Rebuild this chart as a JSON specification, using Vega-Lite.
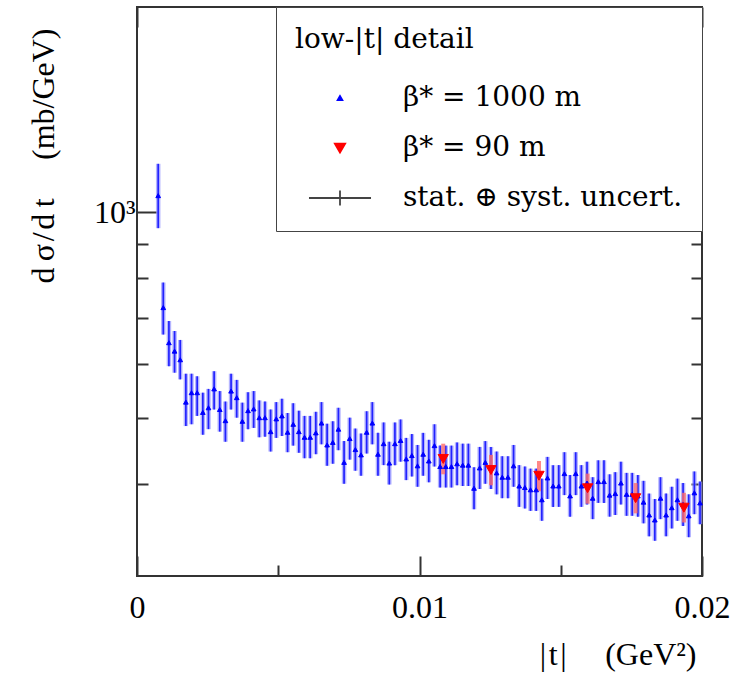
{
  "$schema": "https://vega.github.io/schema/vega-lite/v6.json",
  "width": 565,
  "height": 569,
  "autosize": "none",
  "padding": {"left": 137, "top": 7, "right": 40, "bottom": 97},
  "background": "white",
  "config": {
    "view": {"stroke": "#333333", "strokeWidth": 2},
    "font": "Liberation Serif",
    "legend": {
      "orient": "top-right",
      "offset": 0,
      "padding": 19,
      "strokeColor": "#444444",
      "fillColor": "white",
      "titleFont": "DejaVu Serif",
      "titleFontSize": 28,
      "titleFontWeight": "normal",
      "titleColor": "#000000",
      "titlePadding": 30,
      "labelFont": "DejaVu Serif",
      "labelFontSize": 28,
      "labelColor": "#000000",
      "symbolOffset": 31,
      "labelOffset": 49,
      "rowPadding": 22,
      "symbolStrokeWidth": 1.8,
      "labelLimit": 400
    }
  },
  "datasets": {
    "pts": [
      {"t":0.00075,"v":1058,"lo":948,"hi":1178,"s":"a"},
      {"t":0.00093,"v":725,"lo":662,"hi":789,"s":"a"},
      {"t":0.00113,"v":644,"lo":595,"hi":693,"s":"a"},
      {"t":0.00133,"v":626,"lo":582,"hi":670,"s":"a"},
      {"t":0.00153,"v":608,"lo":569,"hi":650,"s":"a"},
      {"t":0.00173,"v":527,"lo":486,"hi":580,"s":"a"},
      {"t":0.00193,"v":544,"lo":489,"hi":580,"s":"a"},
      {"t":0.00213,"v":544,"lo":503,"hi":575,"s":"a"},
      {"t":0.00233,"v":509,"lo":472,"hi":544,"s":"a"},
      {"t":0.00253,"v":517,"lo":481,"hi":551,"s":"a"},
      {"t":0.00273,"v":551,"lo":514,"hi":585,"s":"a"},
      {"t":0.00293,"v":514,"lo":477,"hi":547,"s":"a"},
      {"t":0.00313,"v":495,"lo":461,"hi":528,"s":"a"},
      {"t":0.00333,"v":547,"lo":514,"hi":580,"s":"a"},
      {"t":0.00353,"v":535,"lo":500,"hi":568,"s":"a"},
      {"t":0.00373,"v":494,"lo":461,"hi":526,"s":"a"},
      {"t":0.00393,"v":512,"lo":481,"hi":545,"s":"a"},
      {"t":0.00413,"v":515,"lo":483,"hi":547,"s":"a"},
      {"t":0.00433,"v":500,"lo":468,"hi":530,"s":"a"},
      {"t":0.00453,"v":500,"lo":469,"hi":528,"s":"a"},
      {"t":0.00473,"v":477,"lo":446,"hi":514,"s":"a"},
      {"t":0.00493,"v":498,"lo":467,"hi":527,"s":"a"},
      {"t":0.00513,"v":503,"lo":470,"hi":533,"s":"a"},
      {"t":0.00533,"v":476,"lo":445,"hi":508,"s":"a"},
      {"t":0.00553,"v":489,"lo":455,"hi":525,"s":"a"},
      {"t":0.00573,"v":477,"lo":444,"hi":512,"s":"a"},
      {"t":0.00593,"v":468,"lo":436,"hi":503,"s":"a"},
      {"t":0.00613,"v":468,"lo":436,"hi":503,"s":"a"},
      {"t":0.00633,"v":475,"lo":442,"hi":510,"s":"a"},
      {"t":0.00653,"v":491,"lo":457,"hi":527,"s":"a"},
      {"t":0.00673,"v":456,"lo":425,"hi":490,"s":"a"},
      {"t":0.00693,"v":460,"lo":428,"hi":494,"s":"a"},
      {"t":0.00713,"v":481,"lo":448,"hi":517,"s":"a"},
      {"t":0.00733,"v":430,"lo":400,"hi":462,"s":"a"},
      {"t":0.00753,"v":466,"lo":434,"hi":500,"s":"a"},
      {"t":0.00773,"v":449,"lo":418,"hi":482,"s":"a"},
      {"t":0.00793,"v":441,"lo":411,"hi":474,"s":"a"},
      {"t":0.00813,"v":476,"lo":443,"hi":511,"s":"a"},
      {"t":0.00833,"v":491,"lo":457,"hi":527,"s":"a"},
      {"t":0.00853,"v":442,"lo":411,"hi":475,"s":"a"},
      {"t":0.00873,"v":458,"lo":426,"hi":492,"s":"a"},
      {"t":0.00893,"v":429,"lo":399,"hi":461,"s":"a"},
      {"t":0.00913,"v":458,"lo":426,"hi":492,"s":"a"},
      {"t":0.00933,"v":463,"lo":431,"hi":497,"s":"a"},
      {"t":0.00953,"v":435,"lo":405,"hi":467,"s":"a"},
      {"t":0.00973,"v":440,"lo":410,"hi":473,"s":"a"},
      {"t":0.00993,"v":425,"lo":396,"hi":456,"s":"a"},
      {"t":0.01013,"v":442,"lo":411,"hi":475,"s":"a"},
      {"t":0.01033,"v":432,"lo":402,"hi":464,"s":"a"},
      {"t":0.01053,"v":455,"lo":424,"hi":489,"s":"a"},
      {"t":0.01073,"v":424,"lo":395,"hi":455,"s":"a"},
      {"t":0.01093,"v":424,"lo":395,"hi":455,"s":"a"},
      {"t":0.01113,"v":424,"lo":395,"hi":455,"s":"a"},
      {"t":0.01133,"v":428,"lo":398,"hi":460,"s":"a"},
      {"t":0.01153,"v":426,"lo":397,"hi":458,"s":"a"},
      {"t":0.01173,"v":426,"lo":397,"hi":458,"s":"a"},
      {"t":0.01193,"v":394,"lo":367,"hi":423,"s":"a"},
      {"t":0.01213,"v":422,"lo":393,"hi":453,"s":"a"},
      {"t":0.01233,"v":430,"lo":400,"hi":462,"s":"a"},
      {"t":0.01253,"v":422,"lo":393,"hi":453,"s":"a"},
      {"t":0.01273,"v":415,"lo":386,"hi":446,"s":"a"},
      {"t":0.01293,"v":409,"lo":381,"hi":439,"s":"a"},
      {"t":0.01313,"v":409,"lo":381,"hi":439,"s":"a"},
      {"t":0.01333,"v":425,"lo":396,"hi":456,"s":"a"},
      {"t":0.01353,"v":397,"lo":370,"hi":426,"s":"a"},
      {"t":0.01373,"v":395,"lo":368,"hi":424,"s":"a"},
      {"t":0.01393,"v":392,"lo":365,"hi":421,"s":"a"},
      {"t":0.01413,"v":392,"lo":365,"hi":421,"s":"a"},
      {"t":0.01433,"v":379,"lo":353,"hi":407,"s":"a"},
      {"t":0.01453,"v":408,"lo":380,"hi":438,"s":"a"},
      {"t":0.01473,"v":397,"lo":370,"hi":426,"s":"a"},
      {"t":0.01493,"v":397,"lo":370,"hi":426,"s":"a"},
      {"t":0.01513,"v":414,"lo":385,"hi":445,"s":"a"},
      {"t":0.01533,"v":384,"lo":358,"hi":412,"s":"a"},
      {"t":0.01553,"v":414,"lo":385,"hi":445,"s":"a"},
      {"t":0.01573,"v":397,"lo":370,"hi":426,"s":"a"},
      {"t":0.01593,"v":401,"lo":373,"hi":431,"s":"a"},
      {"t":0.01613,"v":381,"lo":355,"hi":409,"s":"a"},
      {"t":0.01633,"v":403,"lo":375,"hi":433,"s":"a"},
      {"t":0.01653,"v":403,"lo":375,"hi":433,"s":"a"},
      {"t":0.01673,"v":385,"lo":358,"hi":413,"s":"a"},
      {"t":0.01693,"v":387,"lo":360,"hi":416,"s":"a"},
      {"t":0.01713,"v":401,"lo":373,"hi":431,"s":"a"},
      {"t":0.01733,"v":386,"lo":359,"hi":415,"s":"a"},
      {"t":0.01753,"v":386,"lo":359,"hi":415,"s":"a"},
      {"t":0.01773,"v":384,"lo":358,"hi":412,"s":"a"},
      {"t":0.01793,"v":376,"lo":350,"hi":404,"s":"a"},
      {"t":0.01813,"v":360,"lo":335,"hi":387,"s":"a"},
      {"t":0.01833,"v":354,"lo":330,"hi":380,"s":"a"},
      {"t":0.01853,"v":381,"lo":355,"hi":409,"s":"a"},
      {"t":0.01873,"v":360,"lo":335,"hi":387,"s":"a"},
      {"t":0.01893,"v":369,"lo":344,"hi":396,"s":"a"},
      {"t":0.01913,"v":379,"lo":353,"hi":407,"s":"a"},
      {"t":0.01933,"v":373,"lo":347,"hi":401,"s":"a"},
      {"t":0.01953,"v":359,"lo":334,"hi":386,"s":"a"},
      {"t":0.01973,"v":388,"lo":361,"hi":417,"s":"a"},
      {"t":0.01993,"v":375,"lo":349,"hi":403,"s":"a"},
      {"t":0.01084,"v":435,"lo":413,"hi":458,"s":"b"},
      {"t":0.01253,"v":419,"lo":398,"hi":441,"s":"b"},
      {"t":0.01423,"v":411,"lo":390,"hi":432,"s":"b"},
      {"t":0.01595,"v":394,"lo":374,"hi":414,"s":"b"},
      {"t":0.01765,"v":381,"lo":362,"hi":401,"s":"b"},
      {"t":0.01936,"v":369,"lo":351,"hi":388,"s":"b"}
    ]
  },
  "data": {"name": "pts"},
  "resolve": {"axis": {"x": "independent", "y": "independent"}},
  "layer": [
    {
      "transform": [{"filter": "datum.s == 'a'"}],
      "mark": {"type": "rule", "color": "#9494ff", "strokeWidth": 4.5, "opacity": 0.7},
      "encoding": {
        "x": {
          "field": "t", "type": "quantitative",
          "scale": {"domain": [0, 0.02], "nice": false, "zero": false},
          "axis": {
            "orient": "bottom",
            "values": [0, 0.005, 0.01, 0.015, 0.02],
            "domain": false, "grid": false,
            "tickColor": "#333333", "tickWidth": 2,
            "tickSize": {"condition": {"test": "datum.value == 0.005 || datum.value == 0.015", "value": -11}, "value": -20},
            "labelExpr": "datum.value == 0 ? '0' : datum.value == 0.01 ? '0.01' : datum.value == 0.02 ? '0.02' : ''",
            "labelFont": "Liberation Serif", "labelFontSize": 32, "labelColor": "#000000",
            "labelPadding": 36, "labelFlush": false,
            "title": "|\u200at\u200a|\u2003\u2009(GeV²)", "titleAnchor": "end", "titleX": 559,
            "titleFont": "Liberation Serif", "titleFontSize": 32, "titleFontWeight": "normal", "titleColor": "#000000",
            "titlePadding": 16
          }
        },
        "y": {
          "field": "lo", "type": "quantitative",
          "scale": {"type": "log", "domain": [293, 2000], "nice": false},
          "axis": {
            "orient": "left",
            "values": [400, 500, 600, 700, 800, 900, 1000],
            "domain": false, "grid": false,
            "tickColor": "#333333", "tickWidth": 2,
            "tickSize": {"condition": {"test": "datum.value == 1000", "value": -20}, "value": -11},
            "labelExpr": "datum.value == 1000 ? '10³' : ''",
            "labelFont": "Liberation Serif", "labelFontSize": 32, "labelColor": "#000000",
            "labelPadding": 22,
            "title": "d\u2009σ\u200a/\u200ad\u2009t\u2003\u2009(mb/GeV)", "titleAnchor": "end", "titleY": 21,
            "titleFont": "Liberation Serif", "titleFontSize": 32, "titleFontWeight": "normal", "titleColor": "#000000",
            "titlePadding": 33
          }
        },
        "y2": {"field": "hi"}
      }
    },
    {
      "transform": [{"filter": "datum.s == 'a'"}],
      "mark": {"type": "rule", "color": "#2222ff", "strokeWidth": 1.7},
      "encoding": {
        "x": {
          "field": "t", "type": "quantitative",
          "scale": {"domain": [0, 0.02], "nice": false, "zero": false},
          "axis": {
            "orient": "top",
            "values": [0, 0.005, 0.01, 0.015, 0.02],
            "domain": false, "grid": false, "labels": false, "title": null,
            "tickColor": "#333333", "tickWidth": 2,
            "tickSize": {"condition": {"test": "datum.value == 0.005 || datum.value == 0.015", "value": -11}, "value": -20}
          }
        },
        "y": {
          "field": "lo", "type": "quantitative",
          "scale": {"type": "log", "domain": [293, 2000], "nice": false},
          "axis": {
            "orient": "right",
            "values": [400, 500, 600, 700, 800, 900, 1000],
            "domain": false, "grid": false, "labels": false, "title": null,
            "tickColor": "#333333", "tickWidth": 2,
            "tickSize": {"condition": {"test": "datum.value == 1000", "value": -20}, "value": -11}
          }
        },
        "y2": {"field": "hi"}
      }
    },
    {
      "transform": [{"filter": "datum.s == 'b'"}],
      "mark": {"type": "rule", "color": "#ff6a6a", "strokeWidth": 4, "opacity": 0.8},
      "encoding": {
        "x": {"field": "t", "type": "quantitative", "scale": {"domain": [0, 0.02], "nice": false, "zero": false}, "axis": null},
        "y": {"field": "lo", "type": "quantitative", "scale": {"type": "log", "domain": [293, 2000], "nice": false}, "axis": null},
        "y2": {"field": "hi"}
      }
    },
    {
      "mark": {"type": "point", "filled": true, "opacity": 1, "strokeWidth": 1},
      "encoding": {
        "x": {"field": "t", "type": "quantitative", "scale": {"domain": [0, 0.02], "nice": false, "zero": false}, "axis": null},
        "y": {"field": "v", "type": "quantitative", "scale": {"type": "log", "domain": [293, 2000], "nice": false}, "axis": null},
        "shape": {
          "field": "s", "type": "nominal",
          "scale": {"domain": ["a", "b", "e"], "range": ["triangle-up", "triangle-down", "M-4.5,0H4.5M0,-1.1V1.1"]},
          "legend": {
            "title": "low-|t| detail",
            "labelExpr": "datum.value == 'a' ? 'β* = 1000 m' : datum.value == 'b' ? 'β* = 90 m' : 'stat. ⊕ syst. uncert.'"
          }
        },
        "color": {
          "field": "s", "type": "nominal",
          "scale": {"domain": ["a", "b", "e"], "range": ["#0000ff", "#ff0000", "#444444"]},
          "legend": {
            "title": "low-|t| detail",
            "labelExpr": "datum.value == 'a' ? 'β* = 1000 m' : datum.value == 'b' ? 'β* = 90 m' : 'stat. ⊕ syst. uncert.'"
          }
        },
        "stroke": {
          "field": "s", "type": "nominal",
          "scale": {"domain": ["a", "b", "e"], "range": ["#0000ff", "#ff0000", "#444444"]},
          "legend": {
            "title": "low-|t| detail",
            "labelExpr": "datum.value == 'a' ? 'β* = 1000 m' : datum.value == 'b' ? 'β* = 90 m' : 'stat. ⊕ syst. uncert.'"
          }
        },
        "size": {
          "field": "s", "type": "nominal",
          "scale": {"domain": ["a", "b", "e"], "range": [22, 190, 400]},
          "legend": {
            "title": "low-|t| detail",
            "labelExpr": "datum.value == 'a' ? 'β* = 1000 m' : datum.value == 'b' ? 'β* = 90 m' : 'stat. ⊕ syst. uncert.'"
          }
        }
      }
    }
  ]
}
